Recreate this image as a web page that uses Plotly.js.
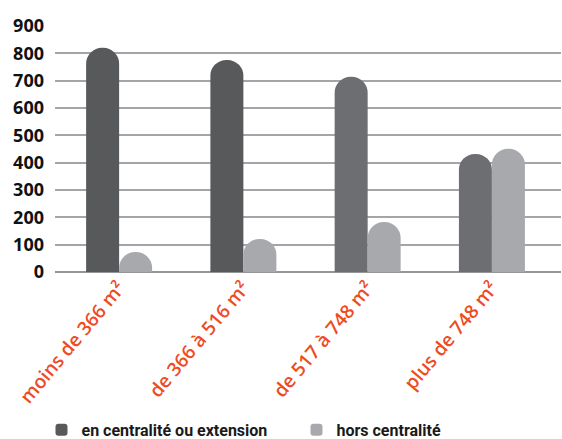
<!DOCTYPE html>
<html><head><meta charset="utf-8">
<script src="https://cdn.plot.ly/plotly-3.0.1.min.js"></script>
<style>html,body{margin:0;padding:0;background:#fff}#chart{width:562px;height:439px}</style>
</head><body><div id="chart"></div>
<script>
const categories = ["moins de 366 m²", "de 366 à 516 m²", "de 517 à 748 m²", "plus de 748 m²"];
const seriesNames = ["en centralité ou extension", "hors centralité"];
const centraliteValues = [820, 776, 714, 432];
const horsValues = [73, 121, 183, 451];
const centraliteColors = ["#58595b", "#58595b", "#6d6e71", "#6d6e71"];
const horsColor = "#a7a9ac";
const yTicks = [0, 100, 200, 300, 400, 500, 600, 700, 800, 900];

const traces = [
  {type: "bar", name: seriesNames[0], x: categories, y: centraliteValues,
   marker: {color: centraliteColors, cornerradius: "50%", line: {width: 0}}, hoverinfo: "none"},
  {type: "bar", name: seriesNames[1], x: categories, y: horsValues,
   marker: {color: horsColor, cornerradius: "50%", line: {width: 0}}, hoverinfo: "none"}
];

const layout = {
  width: 562, height: 439,
  margin: {l: 55, r: 1, t: 26, b: 167, autoexpand: false},
  paper_bgcolor: "#ffffff", plot_bgcolor: "#ffffff",
  barmode: "group", bargap: 0.469, bargroupgap: 0,
  showlegend: true,
  legend: {orientation: "h", x: -0.0267, xanchor: "left", y: -0.573, yanchor: "top",
           bgcolor: "rgba(0,0,0,0)",
           font: {family: "Roboto, sans-serif", size: 16, color: "#1a1a1a", weight: "bold"},
           entrywidth: 210, traceorder: "normal"},
  xaxis: {type: "category", range: [-0.516, 3.556], tickangle: -50, automargin: false,
          tickfont: {family: "'Open Sans', sans-serif", size: 19, color: "#ee4b22", weight: 600},
          showgrid: false, ticks: "", showline: false, zeroline: false},
  yaxis: {range: [0, 900], tickvals: yTicks, ticktext: yTicks.map(String), automargin: false,
          tickfont: {family: "'Open Sans', sans-serif", size: 18, color: "#111111", weight: "bold"},
          showgrid: true, gridcolor: "#a3a5a8", gridwidth: 2,
          zeroline: true, zerolinecolor: "#939598", zerolinewidth: 2,
          ticks: "", ticklabelstandoff: 10, showline: false}
};

Plotly.newPlot("chart", traces, layout, {displayModeBar: false, staticPlot: true});
</script>
</body></html>
